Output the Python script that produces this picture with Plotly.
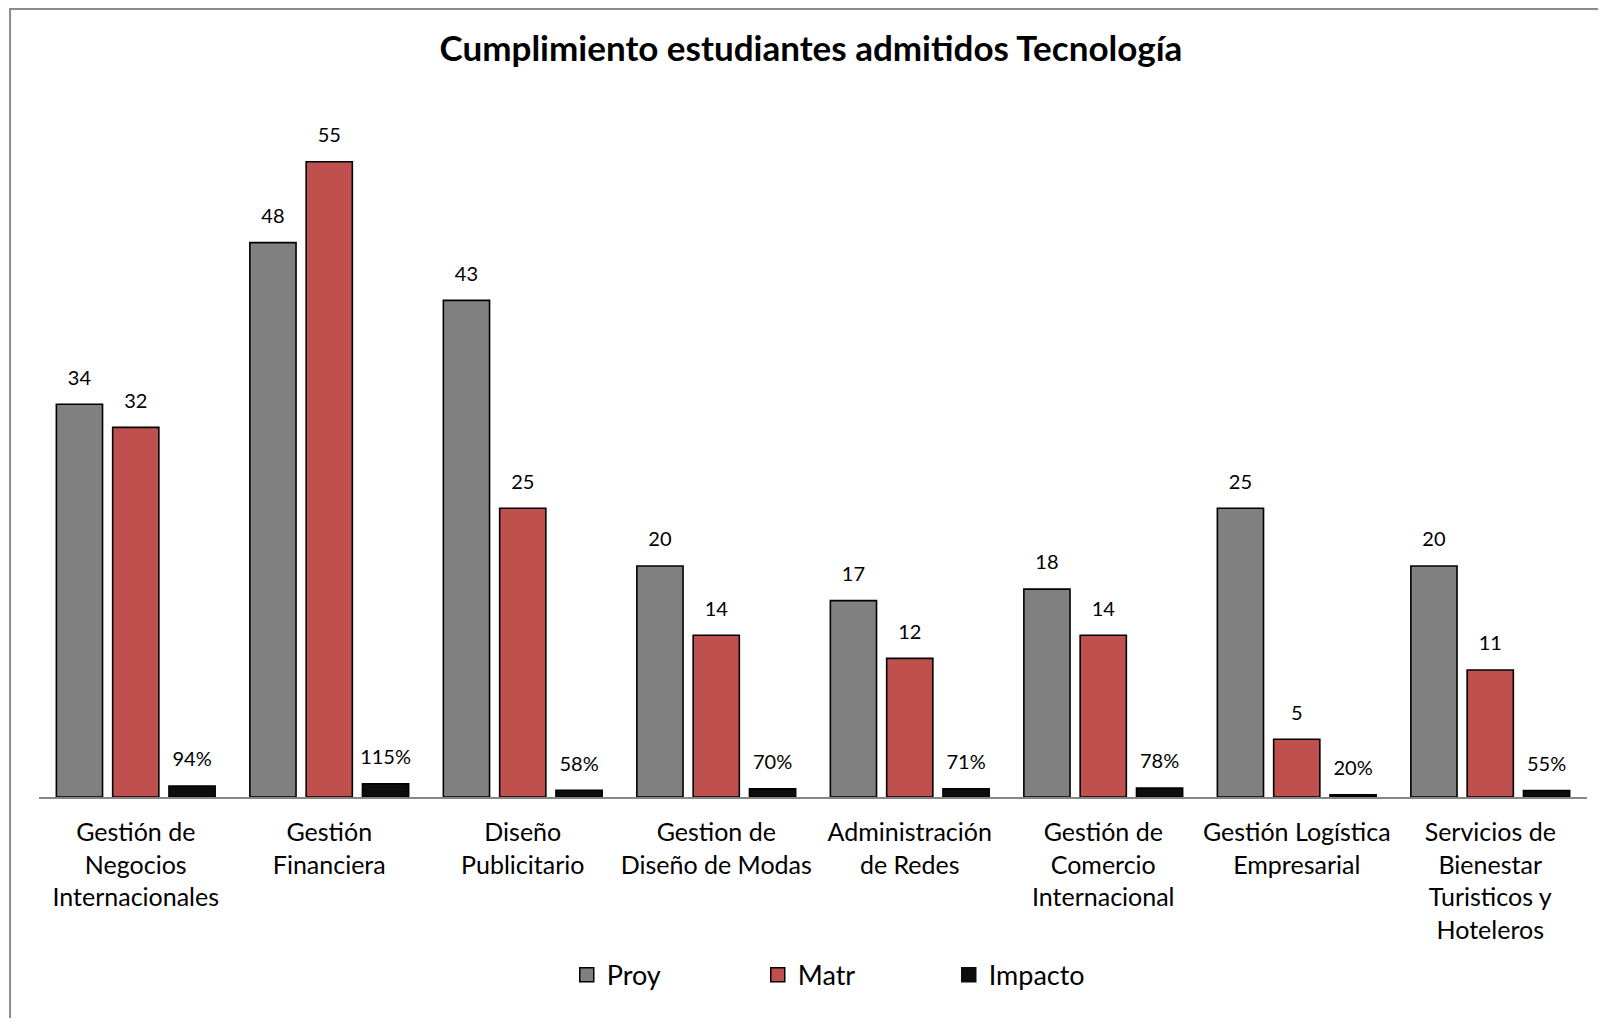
import plotly.graph_objects as go

categories = [
    "Gestión de<br>Negocios<br>Internacionales",
    "Gestión<br>Financiera",
    "Diseño<br>Publicitario",
    "Gestion de<br>Diseño de Modas",
    "Administración<br>de Redes",
    "Gestión de<br>Comercio<br>Internacional",
    "Gestión Logística<br>Empresarial",
    "Servicios de<br>Bienestar<br>Turisticos y<br>Hoteleros",
]
proy = [34, 48, 43, 20, 17, 18, 25, 20]
matr = [32, 55, 25, 14, 12, 14, 5, 11]
impacto = [0.94, 1.15, 0.58, 0.70, 0.71, 0.78, 0.20, 0.55]

FONT = "Lato"
series = [
    ("Proy", proy, "#808080", [str(v) for v in proy]),
    ("Matr", matr, "#C0504D", [str(v) for v in matr]),
    ("Impacto", impacto, "#0D0D0D", [f"{round(v*100)}%" for v in impacto]),
]

fig = go.Figure()
for i, (name, vals, color, labels) in enumerate(series):
    fig.add_trace(go.Bar(
        name=name, x=categories, y=vals, offsetgroup=str(i),
        marker=dict(color=color, line=dict(color="#000000", width=1.6)),
        hoverinfo="skip", showlegend=False, legendgroup=name,
    ))
for i, (name, vals, color, labels) in enumerate(series):
    fig.add_trace(go.Scatter(
        x=categories, y=vals, mode="markers+text", text=labels,
        textposition="top center", offsetgroup=str(i),
        marker=dict(size=22, opacity=0),
        textfont=dict(family=FONT, size=20, color="#000000"),
        showlegend=False, hoverinfo="skip", cliponaxis=False,
    ))
# legend entries (square swatches like the original)
for i, (name, vals, color, labels) in enumerate(series):
    fig.add_trace(go.Scatter(
        x=[None], y=[None], mode="markers", name=name, offsetgroup=str(i),
        legendgroup=name,
        marker=dict(symbol="square", size=14, color=color,
                    line=dict(color="#000000" if i < 2 else color, width=1.5)),
        hoverinfo="skip",
    ))

fig.update_layout(
    width=1590, height=1010,
    paper_bgcolor="white", plot_bgcolor="white",
    margin=dict(l=31, r=11, t=96, b=221),
    barmode="group", bargap=0.127, bargroupgap=0.18,
    scattermode="group", scattergap=0.127,
    title=dict(text="<b>Cumplimiento estudiantes admitidos Tecnología</b>",
               x=0.505, xanchor="center", y=0.9594, yanchor="middle",
               font=dict(family=FONT, size=35, color="#000000")),
    font=dict(family=FONT, color="#000000"),
    xaxis=dict(showline=True, linecolor="#868686", linewidth=2,
               ticks="", ticklabelstandoff=12,
               tickfont=dict(family=FONT, size=25, color="#000000"),
               showgrid=False, zeroline=False),
    yaxis=dict(range=[0, 60], visible=False, showgrid=False, zeroline=False),
    legend=dict(orientation="h", x=0.526, xanchor="center", y=-0.257, yanchor="middle",
                font=dict(family=FONT, size=27, color="#000000"),
                entrywidth=146, entrywidthmode="pixels", traceorder="normal",
                itemwidth=30),
    showlegend=True,
)
fig.add_shape(type="rect", xref="paper", yref="paper",
              x0=-0.0187, x1=1.2, y0=-0.6, y1=1.137,
              line=dict(color="#8C8C8C", width=2), fillcolor="rgba(0,0,0,0)", layer="below")

fig.write_html("out.html")
